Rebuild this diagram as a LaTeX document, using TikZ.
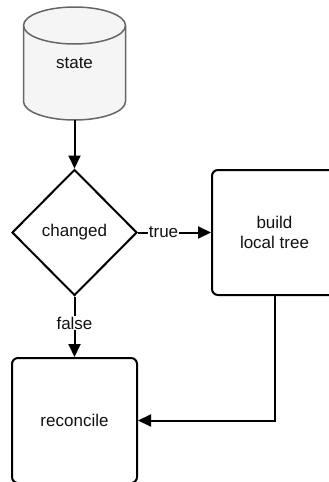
\documentclass[tikz,border=0pt]{standalone}
\usepackage{fontspec}
\setmainfont{Liberation Sans}
\usetikzlibrary{arrows.meta,shapes.geometric}
\definecolor{cylfill}{HTML}{F5F5F5}
\definecolor{cylline}{HTML}{666666}
\definecolor{ink}{HTML}{111111}
\begin{document}
\begin{tikzpicture}[x=1pt,y=-1pt,
  every node/.style={font=\fontsize{17}{20}\selectfont,text=ink},
  flow/.style={line width=2pt,draw=black,-{Triangle[length=13pt,width=12pt]}},
  procbox/.style={draw=black,line width=2pt,rounded corners=6pt,minimum width=125pt,
    minimum height=125pt,inner sep=0pt,align=center},
  decision/.style={draw=black,line width=2pt,diamond,minimum width=125pt,
    minimum height=126pt,inner sep=0pt},
  edgelabel/.style={fill=white,inner sep=1pt},
]
\useasboundingbox (0,0) rectangle (329,482);

% data store drawn as a cylinder
\filldraw[fill=cylfill,draw=cylline,line width=1.5pt]
  (23.5,25.5) -- (23.5,101.5)
  arc[start angle=180,end angle=0,x radius=51,y radius=18.5]
  -- (125.5,25.5)
  arc[start angle=0,end angle=-180,x radius=51,y radius=18.5] -- cycle;
\draw[cylline,line width=1.5pt]
  (23.5,25.5) arc[start angle=180,end angle=0,x radius=51,y radius=18.5];
\node[minimum width=102pt,minimum height=113pt,inner sep=0pt] (state) at (74.5,63.5) {state};

% decision and process steps
\node[decision] (chg) at (74.5,232.5) {changed};
\node[procbox] (build) at (274.5,232.5) {build\\local tree};
\node[procbox] (rec) at (74.5,420.5) {reconcile};

% connectors
\draw[flow] (state.south) -- (chg.north);
\draw[flow] (chg.east) -- node[edgelabel,pos=0.35] {true} (build.west);
\draw[flow] (chg.south) -- node[edgelabel,pos=0.44] {false} (rec.north);
\draw[flow] (build.south) |- (rec.east);
\end{tikzpicture}
\end{document}
